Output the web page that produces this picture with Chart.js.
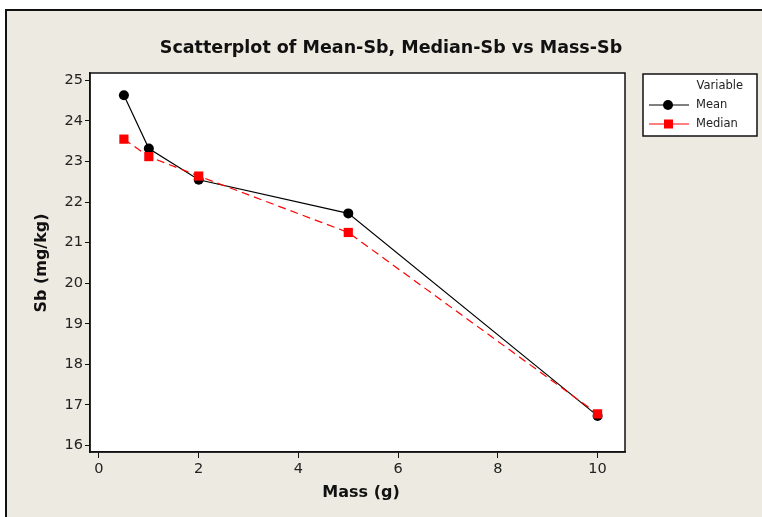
<!DOCTYPE html>
<html>
<head>
<meta charset="utf-8">
<script src="https://cdn.jsdelivr.net/npm/chart.js@4"></script>
<style>
  html, body { margin: 0; padding: 0; background: #fff; }
  #wrap { width: 762px; height: 517px; }
</style>
</head>
<body>
<div id="wrap"><canvas id="chart" width="762" height="517"></canvas></div>
<script>
const massG = [0.5, 1, 2, 5, 10];
const meanSb = [24.63, 23.32, 22.55, 21.72, 16.73];
const medianSb = [23.55, 23.12, 22.64, 21.25, 16.78];
const xTicks = [0, 2, 4, 6, 8, 10];
const yTicks = [16, 17, 18, 19, 20, 21, 22, 23, 24, 25];

const BG = '#EDEAE1';
const FONT = '"DejaVu Sans", Verdana, sans-serif';

function pts(ys) {
  return massG.map((x, i) => ({ x: x, y: ys[i] }));
}

const frame = {
  id: 'frame',
  beforeDraw(chart) {
    const c = chart.ctx;
    const a = chart.chartArea;
    c.save();
    c.fillStyle = '#fff';
    c.fillRect(0, 0, chart.width, chart.height);
    c.fillStyle = BG;
    c.fillRect(7, 10, chart.width - 7, chart.height - 10);
    c.strokeStyle = '#111';
    c.lineWidth = 2;
    c.beginPath();
    c.moveTo(6, chart.height);
    c.lineTo(6, 10);
    c.lineTo(chart.width, 10);
    c.stroke();
    c.fillStyle = '#fff';
    c.fillRect(a.left, a.top, a.right - a.left, a.bottom - a.top);
    c.restore();
  },
  afterDraw(chart) {
    const c = chart.ctx;
    const a = chart.chartArea;
    c.save();
    c.strokeStyle = '#111';
    c.lineWidth = 1.5;
    c.strokeRect(a.left, a.top, a.right - a.left, a.bottom - a.top);

    c.fillStyle = '#111';
    c.textAlign = 'center';
    c.textBaseline = 'middle';
    c.font = 'bold 17.5px ' + FONT;
    c.fillText('Scatterplot of Mean-Sb, Median-Sb vs Mass-Sb', 391, 48);

    c.font = 'bold 16px ' + FONT;
    c.fillText('Mass (g)', 361, 493);
    c.translate(42, 263);
    c.rotate(-Math.PI / 2);
    c.fillText('Sb (mg/kg)', 0, 0);
    c.restore();

    // legend box
    c.save();
    c.fillStyle = '#fff';
    c.fillRect(643, 74, 114, 62);
    c.strokeStyle = '#111';
    c.lineWidth = 1.5;
    c.strokeRect(643, 74, 114, 62);
    c.font = '11.5px ' + FONT;
    c.fillStyle = '#222';
    c.textBaseline = 'middle';
    c.textAlign = 'right';
    c.fillText('Variable', 743, 86);
    c.textAlign = 'left';
    chart.data.datasets.slice().reverse().forEach((ds, i) => {
      const y = 105 + i * 19;
      c.strokeStyle = ds.borderColor;
      c.lineWidth = 1;
      c.beginPath();
      c.moveTo(649, y);
      c.lineTo(689, y);
      c.stroke();
      c.fillStyle = ds.pointBackgroundColor;
      if (ds.pointStyle === 'rect') {
        c.fillRect(664, y - 4.5, 9, 9);
      } else {
        c.beginPath();
        c.arc(668, y, 5, 0, Math.PI * 2);
        c.fill();
      }
      c.fillStyle = '#222';
      c.fillText(ds.label, 696, y);
    });
    c.restore();
  }
};

new Chart(document.getElementById('chart'), {
  type: 'scatter',
  data: {
    datasets: [
      {
        label: 'Median',
        data: pts(medianSb),
        showLine: true,
        borderColor: '#ff0000',
        borderWidth: 1.2,
        borderDash: [8, 5],
        pointStyle: 'rect',
        pointRadius: 6.5,
        pointBackgroundColor: '#ff0000',
        pointBorderWidth: 0,
        order: 0
      },
      {
        label: 'Mean',
        data: pts(meanSb),
        showLine: true,
        borderColor: '#000',
        borderWidth: 1.2,
        pointStyle: 'circle',
        pointRadius: 5,
        pointBackgroundColor: '#000',
        pointBorderWidth: 0,
        order: 1
      }
    ]
  },
  options: {
    responsive: false,
    animation: false,
    layout: { padding: { left: 0, top: 73, right: 137, bottom: 0 } },
    plugins: {
      legend: { display: false },
      title: { display: false },
      tooltip: { enabled: false }
    },
    scales: {
      x: {
        type: 'linear',
        min: -0.18,
        max: 10.55,
        afterBuildTicks: s => { s.ticks = xTicks.map(v => ({ value: v })); },
        afterFit: s => { s.height = 65; },
        grid: { drawOnChartArea: false, tickLength: 6, color: '#111' },
        border: { color: '#111', width: 1.5 },
        ticks: { color: '#222', padding: 3, font: { family: FONT, size: 14.5 } }
      },
      y: {
        type: 'linear',
        min: 15.84,
        max: 25.18,
        afterBuildTicks: s => { s.ticks = yTicks.map(v => ({ value: v })); },
        afterFit: s => { s.width = 90; },
        grid: { drawOnChartArea: false, tickLength: 5, color: '#111' },
        border: { color: '#111', width: 1.5 },
        ticks: { color: '#222', padding: 2, font: { family: FONT, size: 14.5 } }
      }
    }
  },
  plugins: [frame]
});
</script>
</body>
</html>
